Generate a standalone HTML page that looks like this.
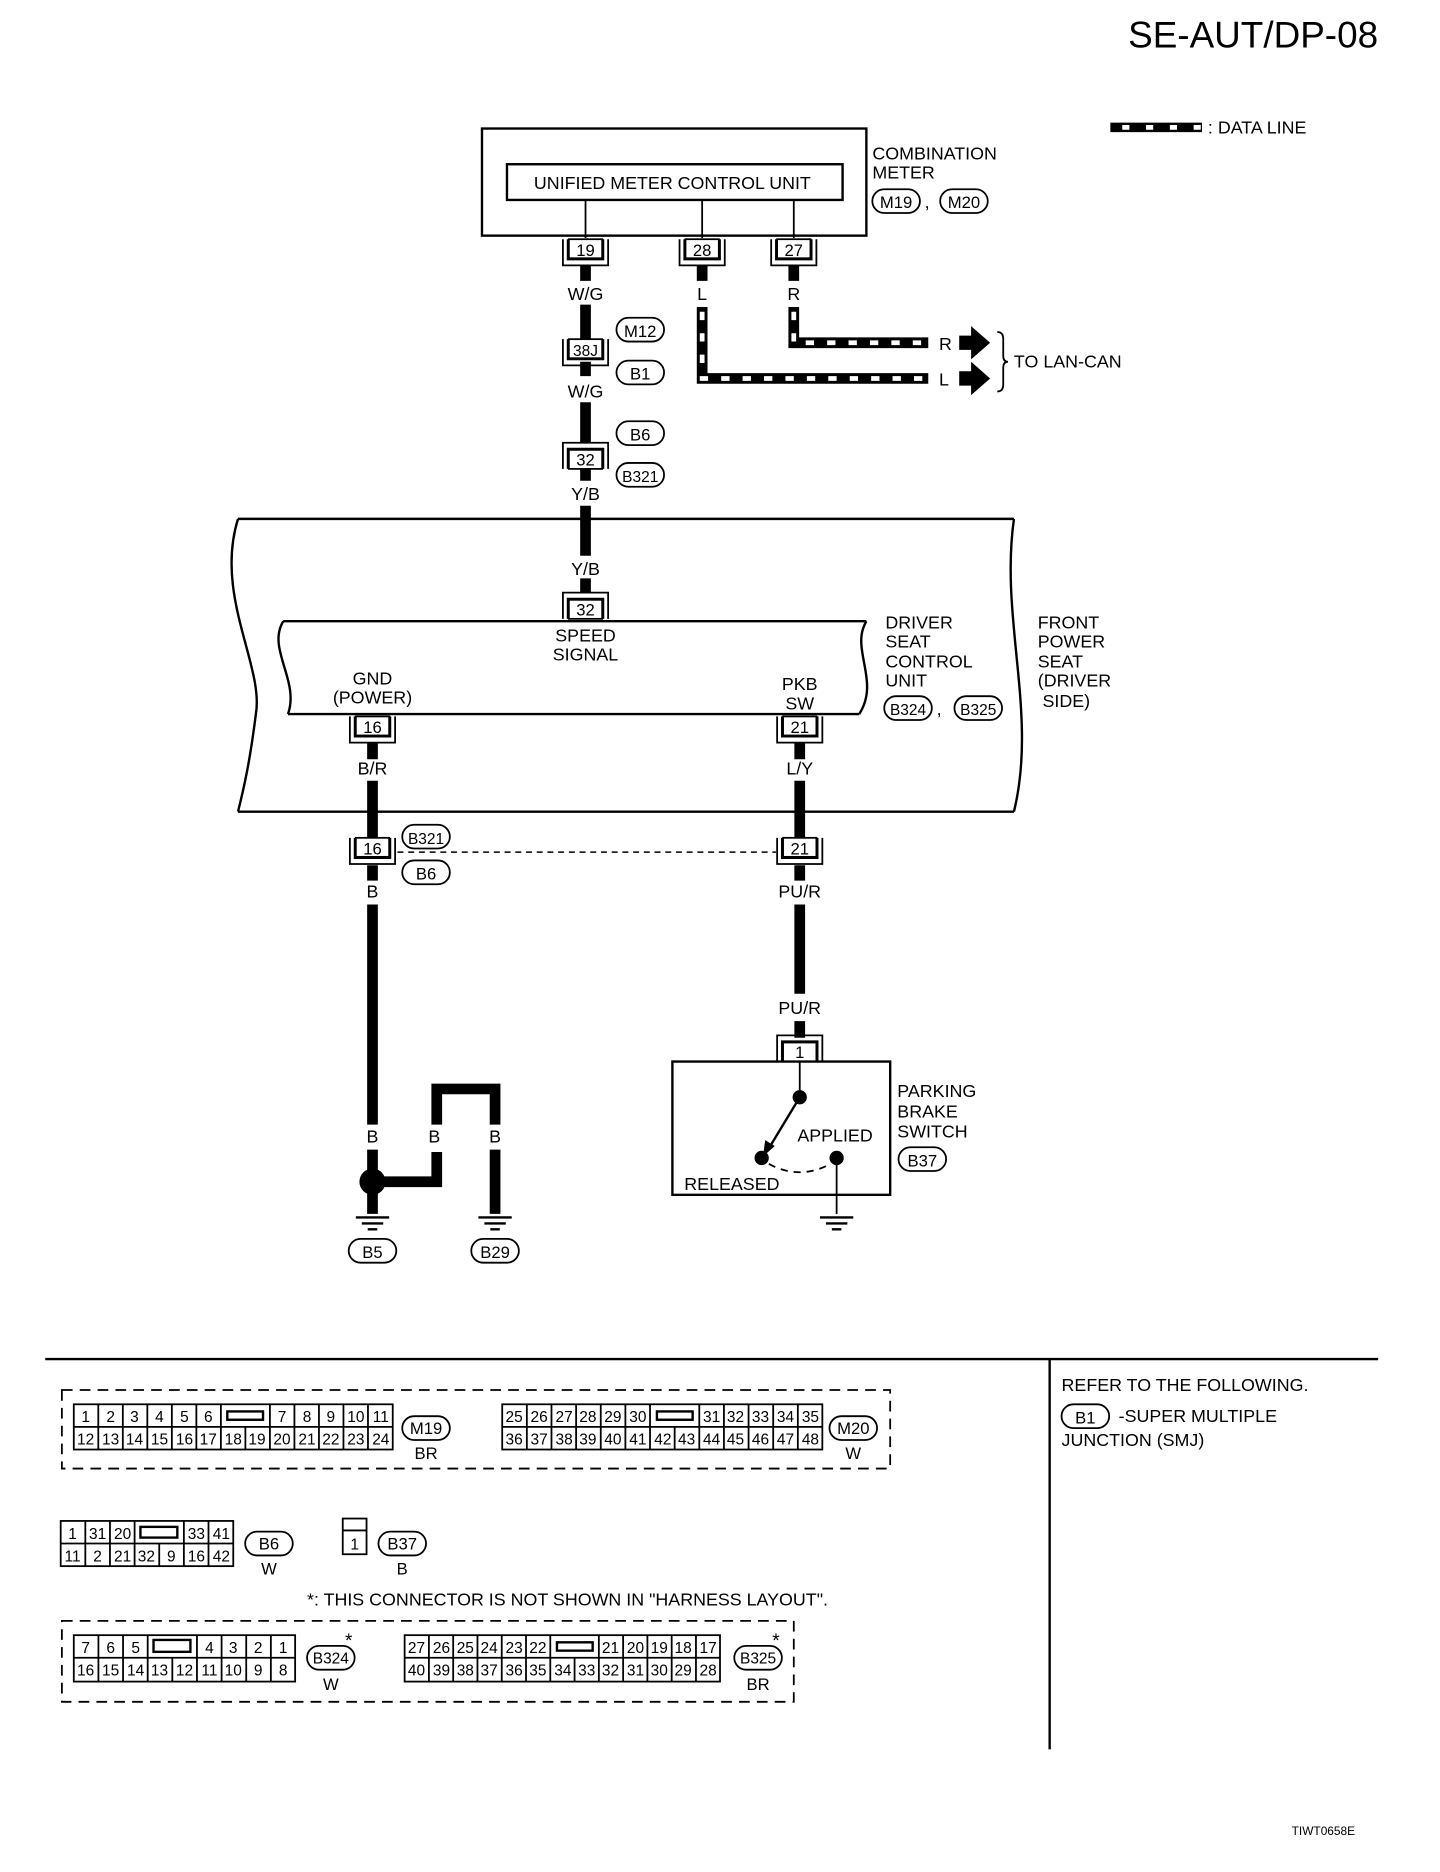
<!DOCTYPE html>
<html><head><meta charset="utf-8"><style>
html,body{margin:0;padding:0;background:#fff;}
svg{display:block;}
text{font-family:"Liberation Sans",sans-serif;fill:#000;}
</style></head><body>
<svg width="1440" height="1872" viewBox="0 0 1210 1573" preserveAspectRatio="none" xmlns="http://www.w3.org/2000/svg">
<defs>
<g id="cb"><path d="M-19,0 V22 H19 V0 M-15,0 V17 H15 V0" fill="none" stroke="#000" stroke-width="1.5"/><rect x="-14" y="0" width="28" height="16" fill="#fff" stroke="#000" stroke-width="1.5"/></g>
<g id="ct"><path d="M-19,22 V0 H19 V22 M-15,22 V5 H15 V22" fill="none" stroke="#000" stroke-width="1.5"/><rect x="-14" y="6" width="28" height="16" fill="#fff" stroke="#000" stroke-width="1.5"/></g>
<g id="gnd"><path d="M-14,0 H14 M-9,5 H9 M-4,10 H4" stroke="#000" stroke-width="2"/></g>
</defs>
<g font-size="15">
<text x="1158" y="40" font-size="31" text-anchor="end">SE-AUT/DP-08</text>
<line x1="933" y1="107" x2="1010" y2="107" stroke="#000" stroke-width="8"/>
<line x1="943" y1="107" x2="1010" y2="107" stroke="#fff" stroke-width="4" stroke-dasharray="6 14"/>
<text x="1015" y="112">: DATA LINE</text>

<rect x="405" y="108" width="323" height="90" fill="none" stroke="#000" stroke-width="2"/>
<rect x="426" y="138" width="282" height="30" fill="none" stroke="#000" stroke-width="2"/>
<text x="565" y="159" text-anchor="middle">UNIFIED METER CONTROL UNIT</text>
<path d="M492,168V200 M590,168V200 M667,168V200" stroke="#000" stroke-width="1.5"/>
<text x="733" y="134">COMBINATION</text><text x="733" y="150">METER</text>
<rect x="733" y="159" width="40" height="20" rx="10" fill="none" stroke="#000" stroke-width="1.5"/><text x="753" y="175" text-anchor="middle" font-size="14">M19</text>
<text x="777" y="175">,</text>
<rect x="790" y="159" width="40" height="20" rx="10" fill="none" stroke="#000" stroke-width="1.5"/><text x="810" y="175" text-anchor="middle" font-size="14">M20</text>

<use href="#cb" x="492" y="201"/><text x="492" y="215" text-anchor="middle" font-size="14">19</text>
<use href="#cb" x="590" y="201"/><text x="590" y="215" text-anchor="middle" font-size="14">28</text>
<use href="#cb" x="667" y="201"/><text x="667" y="215" text-anchor="middle" font-size="14">27</text>

<g stroke="#000" stroke-width="9" fill="none">
<path d="M492,223V236 M492,256V290 M492,304V316 M492,338V372 M492,394V404 M492,425V467 M492,486V498"/>
<path d="M590,223V236 M667,223V236"/>
</g>
<text x="492" y="252" text-anchor="middle">W/G</text>
<text x="590" y="252" text-anchor="middle">L</text>
<text x="667" y="252" text-anchor="middle">R</text>
<path d="M590,258V318H780 M667,258V288H780" stroke="#000" stroke-width="9" fill="none"/>
<path d="M590,262V318H780 M667,262V288H780" stroke="#fff" stroke-width="4" fill="none" stroke-dasharray="7 11"/>
<text x="789" y="294">R</text><text x="789" y="324">L</text>
<path d="M806,282h10v-8l16,14l-16,14v-8h-10z M806,312h10v-8l16,14l-16,14v-8h-10z" fill="#000"/>
<path d="M838,279 q5,0 5,6 v14 q0,5 4,5 q-4,0 -4,5 v14 q0,6 -5,6" fill="none" stroke="#000" stroke-width="1.5"/>
<text x="852" y="309">TO LAN-CAN</text>

<use href="#cb" x="492" y="285"/><text x="492" y="299" text-anchor="middle" font-size="13">38J</text>
<rect x="518" y="267" width="40" height="20" rx="10" fill="none" stroke="#000" stroke-width="1.5"/><text x="538" y="283" text-anchor="middle" font-size="14">M12</text>
<rect x="518" y="303" width="40" height="20" rx="10" fill="none" stroke="#000" stroke-width="1.5"/><text x="538" y="319" text-anchor="middle" font-size="14">B1</text>
<text x="492" y="334" text-anchor="middle">W/G</text>
<use href="#ct" x="492" y="372"/><text x="492" y="391" text-anchor="middle" font-size="14">32</text>
<rect x="518" y="354" width="40" height="20" rx="10" fill="none" stroke="#000" stroke-width="1.5"/><text x="538" y="370" text-anchor="middle" font-size="14">B6</text>
<rect x="518" y="389" width="40" height="20" rx="10" fill="none" stroke="#000" stroke-width="1.5"/><text x="538" y="405" text-anchor="middle" font-size="13">B321</text>
<text x="492" y="420" text-anchor="middle">Y/B</text>

<path d="M200,436H852 M200,682H852 M200,436C180,500 222,560 215,600C210,640 205,662 200,682 M852,436C840,520 872,600 852,682" fill="none" stroke="#000" stroke-width="2"/>
<text x="492" y="483" text-anchor="middle">Y/B</text>
<use href="#ct" x="492" y="498"/><text x="492" y="517" text-anchor="middle" font-size="14">32</text>
<path d="M238,522H728 M242,600H722 M238,522C224,545 252,572 242,600 M728,522C714,545 740,572 722,600" fill="none" stroke="#000" stroke-width="2"/>
<text x="492" y="539" text-anchor="middle">SPEED</text><text x="492" y="555" text-anchor="middle">SIGNAL</text>
<text x="313" y="575" text-anchor="middle">GND</text><text x="313" y="591" text-anchor="middle">(POWER)</text>
<text x="672" y="580" text-anchor="middle">PKB</text><text x="672" y="596" text-anchor="middle">SW</text>
<text x="744" y="528">DRIVER</text><text x="744" y="544">SEAT</text><text x="744" y="561">CONTROL</text><text x="744" y="577">UNIT</text>
<rect x="743" y="585" width="40" height="20" rx="10" fill="none" stroke="#000" stroke-width="1.5"/><text x="763" y="601" text-anchor="middle" font-size="13">B324</text>
<text x="787" y="601">,</text>
<rect x="802" y="585" width="40" height="20" rx="10" fill="none" stroke="#000" stroke-width="1.5"/><text x="822" y="601" text-anchor="middle" font-size="13">B325</text>
<text x="872" y="528">FRONT</text><text x="872" y="544">POWER</text><text x="872" y="561">SEAT</text><text x="872" y="577">(DRIVER</text><text x="876" y="594">SIDE)</text>

<use href="#cb" x="313" y="602"/><text x="313" y="616" text-anchor="middle" font-size="14">16</text>
<use href="#cb" x="672" y="602"/><text x="672" y="616" text-anchor="middle" font-size="14">21</text>
<g stroke="#000" stroke-width="9" fill="none">
<path d="M313,624V638 M313,656V704 M672,624V638 M672,656V704"/>
<path d="M313,727V740 M672,727V740 M313,760V945 M313,966V1020 M672,760V835 M672,858V872"/>
<path d="M323,993H367V968 M367,945V915H416V945 M416,966V1020"/>
</g>
<circle cx="313" cy="993" r="11" fill="#000"/>
<text x="313" y="651" text-anchor="middle">B/R</text>
<text x="672" y="651" text-anchor="middle">L/Y</text>
<use href="#cb" x="313" y="704"/><text x="313" y="718" text-anchor="middle" font-size="14">16</text>
<use href="#cb" x="672" y="704"/><text x="672" y="718" text-anchor="middle" font-size="14">21</text>
<line x1="334" y1="716" x2="652" y2="716" stroke="#000" stroke-width="1.2" stroke-dasharray="5 4"/>
<rect x="338" y="693" width="40" height="20" rx="10" fill="none" stroke="#000" stroke-width="1.5"/><text x="358" y="709" text-anchor="middle" font-size="13">B321</text>
<rect x="338" y="723" width="40" height="20" rx="10" fill="none" stroke="#000" stroke-width="1.5"/><text x="358" y="739" text-anchor="middle" font-size="14">B6</text>
<text x="313" y="754" text-anchor="middle">B</text>
<text x="672" y="754" text-anchor="middle">PU/R</text>
<text x="672" y="852" text-anchor="middle">PU/R</text>
<text x="313" y="960" text-anchor="middle">B</text>
<text x="365" y="960" text-anchor="middle">B</text>
<text x="416" y="960" text-anchor="middle">B</text>
<use href="#gnd" x="313" y="1023"/><use href="#gnd" x="416" y="1023"/>
<rect x="293" y="1041" width="40" height="20" rx="10" fill="none" stroke="#000" stroke-width="1.5"/><text x="313" y="1057" text-anchor="middle" font-size="14">B5</text>
<rect x="396" y="1041" width="40" height="20" rx="10" fill="none" stroke="#000" stroke-width="1.5"/><text x="416" y="1057" text-anchor="middle" font-size="14">B29</text>

<use href="#ct" x="672" y="870"/><text x="672" y="889" text-anchor="middle" font-size="14">1</text>
<rect x="565" y="892" width="183" height="112" fill="none" stroke="#000" stroke-width="2"/>
<line x1="672" y1="892" x2="672" y2="920" stroke="#000" stroke-width="1.5"/>
<circle cx="672" cy="922" r="6" fill="#000"/>
<line x1="672" y1="922" x2="646" y2="965" stroke="#000" stroke-width="2"/>
<path d="M641,972 l2,-14 l8,5z" fill="#000"/>
<circle cx="640" cy="973" r="6" fill="#000"/>
<circle cx="703" cy="973" r="6" fill="#000"/>
<path d="M646,978 Q672,992 698,978" fill="none" stroke="#000" stroke-width="1.5" stroke-dasharray="6 5"/>
<line x1="703" y1="973" x2="703" y2="1020" stroke="#000" stroke-width="1.5"/>
<use href="#gnd" x="703" y="1023"/>
<text x="670" y="959">APPLIED</text>
<text x="575" y="1000">RELEASED</text>
<text x="754" y="922">PARKING</text><text x="754" y="939">BRAKE</text><text x="754" y="956">SWITCH</text>
<rect x="755" y="964" width="40" height="20" rx="10" fill="none" stroke="#000" stroke-width="1.5"/><text x="775" y="980" text-anchor="middle" font-size="14">B37</text>

<line x1="38" y1="1142" x2="1158" y2="1142" stroke="#000" stroke-width="2"/>
<line x1="882" y1="1142" x2="882" y2="1470" stroke="#000" stroke-width="2"/>
<text x="892" y="1169">REFER TO THE FOLLOWING.</text>
<rect x="892" y="1180" width="40" height="20" rx="10" fill="none" stroke="#000" stroke-width="1.5"/><text x="912" y="1196" text-anchor="middle" font-size="14">B1</text>
<text x="940" y="1195">-SUPER MULTIPLE</text>
<text x="892" y="1215">JUNCTION (SMJ)</text>

<rect x="52" y="1168" width="696" height="66" fill="none" stroke="#000" stroke-width="1.5" stroke-dasharray="9 6"/>
<rect x="52" y="1362" width="615" height="68" fill="none" stroke="#000" stroke-width="1.5" stroke-dasharray="9 6"/>
</g>

<g font-size="13" text-anchor="middle" stroke-width="1.5">
<rect x="62" y="1180" width="268" height="38" fill="none" stroke="#000"/>
<line x1="62" y1="1199" x2="330" y2="1199" stroke="#000"/>
<path d="M82.6,1180V1218M103.2,1180V1218M123.8,1180V1218M144.4,1180V1218M165,1180V1218M185.6,1180V1218M206.2,1199V1218M226.8,1180V1218M247.4,1180V1218M268,1180V1218M288.6,1180V1218M309.2,1180V1218" stroke="#000"/>
<rect x="191" y="1186" width="30" height="7" fill="none" stroke="#000" stroke-width="2"/>
<text x="72" y="1195">1</text><text x="93" y="1195">2</text><text x="113" y="1195">3</text><text x="134" y="1195">4</text><text x="155" y="1195">5</text><text x="175" y="1195">6</text><text x="237" y="1195">7</text><text x="258" y="1195">8</text><text x="278" y="1195">9</text><text x="299" y="1195">10</text><text x="320" y="1195">11</text>
<text x="72" y="1214">12</text><text x="93" y="1214">13</text><text x="113" y="1214">14</text><text x="134" y="1214">15</text><text x="155" y="1214">16</text><text x="175" y="1214">17</text><text x="196" y="1214">18</text><text x="216" y="1214">19</text><text x="237" y="1214">20</text><text x="258" y="1214">21</text><text x="278" y="1214">22</text><text x="299" y="1214">23</text><text x="320" y="1214">24</text>
<rect x="338" y="1190" width="40" height="20" rx="10" fill="none" stroke="#000"/><text x="358" y="1205" font-size="14">M19</text><text x="358" y="1226" font-size="14">BR</text>

<rect x="422" y="1180" width="269" height="38" fill="none" stroke="#000"/>
<line x1="422" y1="1199" x2="691" y2="1199" stroke="#000"/>
<path d="M442.7,1180V1218M463.4,1180V1218M484.1,1180V1218M504.8,1180V1218M525.5,1180V1218M546.2,1180V1218M566.9,1199V1218M587.6,1180V1218M608.3,1180V1218M629,1180V1218M649.7,1180V1218M670.4,1180V1218" stroke="#000"/>
<rect x="552" y="1186" width="30" height="7" fill="none" stroke="#000" stroke-width="2"/>
<text x="432" y="1195">25</text><text x="453" y="1195">26</text><text x="474" y="1195">27</text><text x="494" y="1195">28</text><text x="515" y="1195">29</text><text x="536" y="1195">30</text><text x="598" y="1195">31</text><text x="618" y="1195">32</text><text x="639" y="1195">33</text><text x="660" y="1195">34</text><text x="681" y="1195">35</text>
<text x="432" y="1214">36</text><text x="453" y="1214">37</text><text x="474" y="1214">38</text><text x="494" y="1214">39</text><text x="515" y="1214">40</text><text x="536" y="1214">41</text><text x="557" y="1214">42</text><text x="577" y="1214">43</text><text x="598" y="1214">44</text><text x="618" y="1214">45</text><text x="639" y="1214">46</text><text x="660" y="1214">47</text><text x="681" y="1214">48</text>
<rect x="697" y="1190" width="40" height="20" rx="10" fill="none" stroke="#000"/><text x="717" y="1205" font-size="14">M20</text><text x="717" y="1226" font-size="14">W</text>

<rect x="51" y="1278" width="145" height="38" fill="none" stroke="#000"/>
<line x1="51" y1="1297" x2="196" y2="1297" stroke="#000"/>
<path d="M71.7,1278V1316M92.4,1278V1316M113.1,1278V1316M133.8,1297V1316M154.5,1278V1316M175.2,1278V1316" stroke="#000"/>
<rect x="118" y="1283" width="31" height="9" fill="none" stroke="#000" stroke-width="2"/>
<text x="61" y="1293">1</text><text x="82" y="1293">31</text><text x="103" y="1293">20</text><text x="165" y="1293">33</text><text x="186" y="1293">41</text>
<text x="61" y="1312">11</text><text x="82" y="1312">2</text><text x="103" y="1312">21</text><text x="123" y="1312">32</text><text x="144" y="1312">9</text><text x="165" y="1312">16</text><text x="186" y="1312">42</text>
<rect x="206" y="1287" width="40" height="20" rx="10" fill="none" stroke="#000"/><text x="226" y="1302" font-size="14">B6</text><text x="226" y="1323" font-size="14">W</text>
<rect x="288" y="1276" width="20" height="30" fill="none" stroke="#000"/>
<line x1="288" y1="1286" x2="308" y2="1286" stroke="#000"/>
<text x="298" y="1302">1</text>
<rect x="318" y="1287" width="40" height="20" rx="10" fill="none" stroke="#000"/><text x="338" y="1302" font-size="14">B37</text><text x="338" y="1323" font-size="14">B</text>
<text x="258" y="1349" text-anchor="start" font-size="15">*: THIS CONNECTOR IS NOT SHOWN IN "HARNESS LAYOUT".</text>

<rect x="62" y="1374" width="186" height="39" fill="none" stroke="#000"/>
<line x1="62" y1="1393" x2="248" y2="1393" stroke="#000"/>
<path d="M82.7,1374V1413M103.4,1374V1413M124.1,1374V1413M144.8,1393V1413M165.5,1374V1413M186.2,1374V1413M206.9,1374V1413M227.6,1374V1413" stroke="#000"/>
<rect x="129" y="1378" width="31" height="10" fill="none" stroke="#000" stroke-width="2"/>
<text x="72" y="1389">7</text><text x="93" y="1389">6</text><text x="114" y="1389">5</text><text x="176" y="1389">4</text><text x="196" y="1389">3</text><text x="217" y="1389">2</text><text x="238" y="1389">1</text>
<text x="72" y="1408">16</text><text x="93" y="1408">15</text><text x="114" y="1408">14</text><text x="134" y="1408">13</text><text x="155" y="1408">12</text><text x="176" y="1408">11</text><text x="196" y="1408">10</text><text x="217" y="1408">9</text><text x="238" y="1408">8</text>
<rect x="258" y="1383" width="40" height="20" rx="10" fill="none" stroke="#000"/><text x="278" y="1398" font-size="13">B324</text><text x="278" y="1420" font-size="14">W</text><text x="293" y="1384" font-size="16">*</text>
<rect x="340" y="1374" width="265" height="39" fill="none" stroke="#000"/>
<line x1="340" y1="1393" x2="605" y2="1393" stroke="#000"/>
<path d="M360.4,1374V1413M380.8,1374V1413M401.2,1374V1413M421.6,1374V1413M442,1374V1413M462.4,1374V1413M482.8,1393V1413M503.2,1374V1413M523.6,1374V1413M544,1374V1413M564.4,1374V1413M584.8,1374V1413" stroke="#000"/>
<rect x="468" y="1380" width="30" height="7" fill="none" stroke="#000" stroke-width="2"/>
<text x="350" y="1389">27</text><text x="371" y="1389">26</text><text x="391" y="1389">25</text><text x="411" y="1389">24</text><text x="432" y="1389">23</text><text x="452" y="1389">22</text><text x="513" y="1389">21</text><text x="534" y="1389">20</text><text x="554" y="1389">19</text><text x="574" y="1389">18</text><text x="595" y="1389">17</text>
<text x="350" y="1408">40</text><text x="371" y="1408">39</text><text x="391" y="1408">38</text><text x="411" y="1408">37</text><text x="432" y="1408">36</text><text x="452" y="1408">35</text><text x="473" y="1408">34</text><text x="493" y="1408">33</text><text x="513" y="1408">32</text><text x="534" y="1408">31</text><text x="554" y="1408">30</text><text x="574" y="1408">29</text><text x="595" y="1408">28</text>
<rect x="617" y="1383" width="40" height="20" rx="10" fill="none" stroke="#000"/><text x="637" y="1398" font-size="13">B325</text><text x="637" y="1420" font-size="14">BR</text><text x="652" y="1384" font-size="16">*</text>
<text x="1112" y="1542" font-size="10">TIWT0658E</text>
</g>
</svg>
</body></html>
